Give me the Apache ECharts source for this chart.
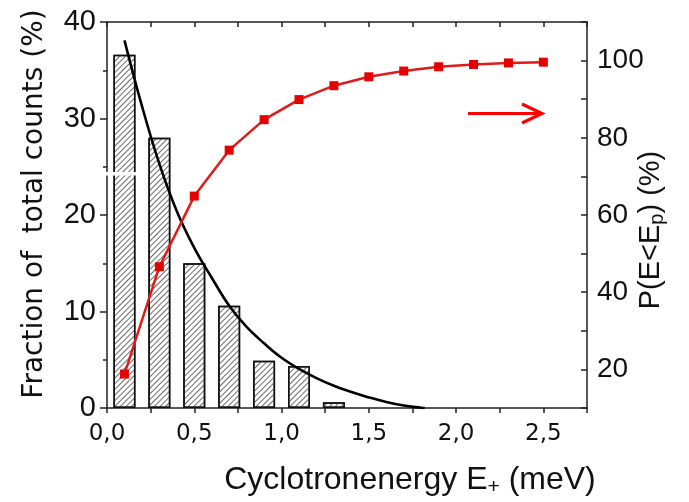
<!DOCTYPE html>
<html>
<head>
<meta charset="utf-8">
<script src="https://cdn.jsdelivr.net/npm/echarts@6/dist/echarts.min.js"></script>
<style>
  html, body { margin: 0; padding: 0; background: #fff; }
  #chart { width: 689px; height: 502px; }
</style>
</head>
<body>
<div id="chart"></div>
<script>
// Histogram of cyclotron energies (left axis, %)
const barEnergy = [0.1, 0.3, 0.5, 0.7, 0.9, 1.1, 1.3];
const barFraction = [36.6, 28.0, 15.0, 10.6, 4.9, 4.35, 0.6];

// Fitted distribution curve (left axis, %)
const fitEnergy = [0.1, 0.2, 0.3, 0.4, 0.5, 0.6, 0.7, 0.8, 0.9, 1.0, 1.1, 1.2, 1.3, 1.4, 1.5, 1.6, 1.7, 1.8, 1.82];
const fitFraction = [38.1, 31.3, 25.3, 20.4, 16.6, 13.5, 10.6, 8.4, 6.7, 5.2, 4.05, 3.1, 2.3, 1.65, 1.1, 0.62, 0.25, 0.03, 0.0];

// Cumulative probability P(E<Ep) (right axis, %)
const cumEnergy = [0.1, 0.3, 0.5, 0.7, 0.9, 1.1, 1.3, 1.5, 1.7, 1.9, 2.1, 2.3, 2.5];
const cumPercent = [18.8, 46.6, 64.9, 76.8, 84.7, 89.9, 93.5, 95.8, 97.3, 98.4, 99.0, 99.4, 99.6];

const zip = (xs, ys) => xs.map((x, i) => [x, ys[i]]);
const axisColor = '#222';
const sans = "'Liberation Sans', Arial, sans-serif";
const dejavu = "'DejaVu Sans', sans-serif";
const comma = v => v.toFixed(1).replace('.', ',');

const chart = echarts.init(document.getElementById('chart'), null, { renderer: 'canvas' });

chart.setOption({
  animation: false,
  backgroundColor: '#fff',
  grid: { left: 107, right: 102, top: 22, bottom: 94, containLabel: false, outerBoundsMode: 'none' },
  xAxis: [
    {
      type: 'value', min: 0, max: 2.75, interval: 0.25, position: 'bottom',
      axisLine: { onZero: false, lineStyle: { color: axisColor, width: 1.5 } },
      axisTick: { inside: false, length: 5, lineStyle: { color: axisColor, width: 1.5 } },
      splitLine: { show: false },
      axisLabel: {
        margin: 15, color: '#111', fontSize: 23, fontFamily: dejavu,
        formatter: v => (Math.abs(v * 2 - Math.round(v * 2)) < 1e-6 && v <= 2.5 + 1e-6) ? comma(v) : ''
      },
      name: 'Cyclotronenergy E{sub|+} (meV)',
      nameLocation: 'middle', nameGap: 54, nameMoveOverlap: false,
      nameTextStyle: {
        color: '#111', fontSize: 32, fontFamily: sans,
        padding: [0, 0, 0, 126], lineHeight: 36, verticalAlign: 'top',
        rich: { sub: { fontSize: 21, fontFamily: sans, color: '#111', verticalAlign: 'bottom', lineHeight: 22, padding: [12, 0, 0, 0] } }
      }
    },
    {
      type: 'value', min: 0, max: 2.75, interval: 0.25, position: 'top',
      axisLine: { onZero: false, lineStyle: { color: axisColor, width: 1.5 } },
      axisTick: { inside: true, length: 5, lineStyle: { color: axisColor, width: 1.5 } },
      axisLabel: { show: false }, splitLine: { show: false }
    }
  ],
  yAxis: [
    {
      type: 'value', min: 0, max: 40, interval: 10, position: 'left',
      axisLine: { show: true, onZero: false, lineStyle: { color: axisColor, width: 1.5 } },
      axisTick: { show: true, inside: false, length: 7, lineStyle: { color: axisColor, width: 1.5 } },
      minorTick: { show: true, splitNumber: 2, length: 4, lineStyle: { color: axisColor, width: 1.5 } },
      splitLine: { show: false },
      axisLabel: { margin: 11, color: '#111', fontSize: 29, fontFamily: sans },
      name: 'Fraction of  total counts (%)',
      nameLocation: 'middle', nameRotate: 90, nameGap: 58,
      nameTextStyle: { color: '#111', fontSize: 28, fontFamily: dejavu, padding: [0, 0, 0, 22] }
    },
    {
      type: 'value', min: 10, max: 110, interval: 10, position: 'right',
      axisLine: { show: true, onZero: false, lineStyle: { color: axisColor, width: 1.5 } },
      axisTick: { show: true, inside: true, length: 6, lineStyle: { color: axisColor, width: 1.5 } },
      splitLine: { show: false },
      axisLabel: {
        margin: 10, color: '#111', fontSize: 28, fontFamily: sans,
        formatter: v => (Math.round(v) % 20 === 0 && v >= 20 && v <= 100) ? String(Math.round(v)) : ''
      },
      name: 'P(E<E{sub|p}) (%)',
      nameLocation: 'middle', nameRotate: 90, nameGap: 48, nameMoveOverlap: false,
      nameTextStyle: {
        color: '#111', fontSize: 29, fontFamily: sans,
        lineHeight: 32, padding: [0, 30, 0, 0],
        rich: { sub: { fontSize: 20, fontFamily: sans, color: '#111', verticalAlign: 'bottom', lineHeight: 20, padding: [10, 0, 0, 0] } }
      }
    }
  ],
  series: [
    {
      type: 'bar', xAxisIndex: 0, yAxisIndex: 0,
      data: zip(barEnergy, barFraction),
      barWidth: 22,
      itemStyle: {
        color: '#fff', borderColor: '#111', borderWidth: 1.5,
        decal: {
          symbol: 'rect', symbolSize: 1,
          dashArrayX: [1, 0], dashArrayY: [1, 2.6],
          rotation: -Math.PI / 4, color: '#6a6a6a'
        }
      },
      z: 2
    },
    {
      type: 'line', xAxisIndex: 0, yAxisIndex: 0,
      data: zip(fitEnergy, fitFraction),
      smooth: 0.4,
      showSymbol: false, symbol: 'none',
      lineStyle: { color: '#000', width: 2.6 },
      z: 3
    },
    {
      type: 'line', xAxisIndex: 0, yAxisIndex: 1,
      data: zip(cumEnergy, cumPercent),
      symbol: 'rect', symbolSize: 9,
      itemStyle: { color: '#e60000' },
      lineStyle: { color: '#e01a1a', width: 2.5 },
      z: 4
    }
  ],
  graphic: [
    // break mark on the left axis
    { type: 'rect', shape: { x: 104, y: 172, width: 33, height: 3.5 }, style: { fill: '#fff' }, z: 100 },
    // red arrow pointing to the right-hand axis
    { type: 'line', shape: { x1: 468, y1: 113.5, x2: 541, y2: 113.5 }, style: { stroke: '#f00', lineWidth: 3.2 }, z: 100 },
    { type: 'polyline', shape: { points: [[522, 104], [542, 113.5], [522, 123]] }, style: { stroke: '#f00', lineWidth: 3.2, fill: null, lineJoin: 'miter' }, z: 100 }
  ]
});
</script>
</body>
</html>
